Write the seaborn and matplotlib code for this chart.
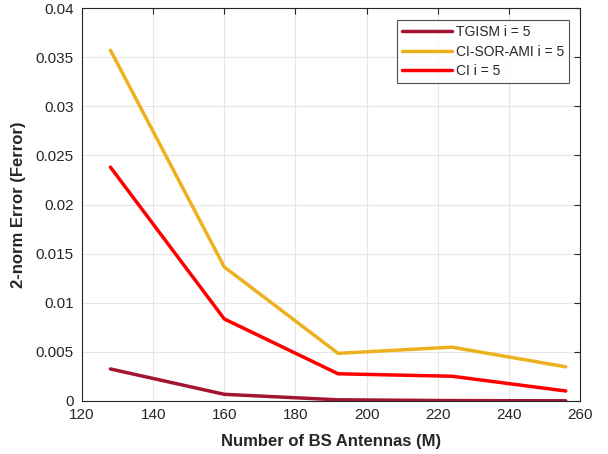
import matplotlib
matplotlib.use("Agg")
import matplotlib.pyplot as plt
import seaborn as sns
import pandas as pd

antennas = [128, 160, 192, 224, 256]
tgism = [0.00326, 0.00068, 0.00012, 0.00004, 0.00002]
ci_sor_ami = [0.0357, 0.01364, 0.00485, 0.00548, 0.00348]
ci = [0.0238, 0.00835, 0.00277, 0.00252, 0.00102]
series_names = ["TGISM i = 5", "CI-SOR-AMI i = 5", "CI i = 5"]
colors = ["#A2142F", "#EDB120", "#FF0000"]

df = pd.DataFrame({
    "M": antennas * 3,
    "err": tgism + ci_sor_ami + ci,
    "series": sum([[n] * len(antennas) for n in series_names], []),
})

sns.set_style("white")
plt.rcParams["font.family"] = ["Liberation Sans", "DejaVu Sans"]

fig = plt.figure(figsize=(6.08, 4.54), dpi=100)
ax = fig.add_axes([82 / 608, 1 - 401 / 454, (580 - 82) / 608, (401 - 8) / 454])
sns.lineplot(data=df, x="M", y="err", hue="series", palette=colors,
             hue_order=series_names, linewidth=2.5, ax=ax)

ax.set_xlim(120, 260)
ax.set_ylim(0, 0.04)
ax.set_xticks(range(120, 261, 20))
ax.set_yticks([0, 0.005, 0.01, 0.015, 0.02, 0.025, 0.03, 0.035, 0.04])
ax.set_yticklabels(["0", "0.005", "0.01", "0.015", "0.02", "0.025", "0.03", "0.035", "0.04"])
ax.grid(True, color="#e6e6e6", linewidth=0.8)
ax.tick_params(direction="in", top=True, right=True, length=4, width=0.8,
               labelsize=11, colors="#262626")
ax.tick_params(axis="y", pad=6)
ax.tick_params(axis="x", pad=5)
for s in ax.spines.values():
    s.set_visible(True)
    s.set_color("#262626")
    s.set_linewidth(0.8)
ax.set_xlabel("Number of BS Antennas (M)", fontsize=12, fontweight="bold",
              color="#262626", labelpad=9)
ax.set_ylabel("2-norm Error (Ferror)", fontsize=12, fontweight="bold",
              color="#262626", labelpad=7)

leg = ax.legend(loc="upper right", bbox_to_anchor=(0.978, 0.969), borderaxespad=0,
                fontsize=10, frameon=True, fancybox=False, edgecolor="#262626",
                handlelength=3.6, borderpad=0.35, labelspacing=0.4, handletextpad=0.3)
leg.get_frame().set_linewidth(0.8)

fig.savefig("out.png", dpi=100)
